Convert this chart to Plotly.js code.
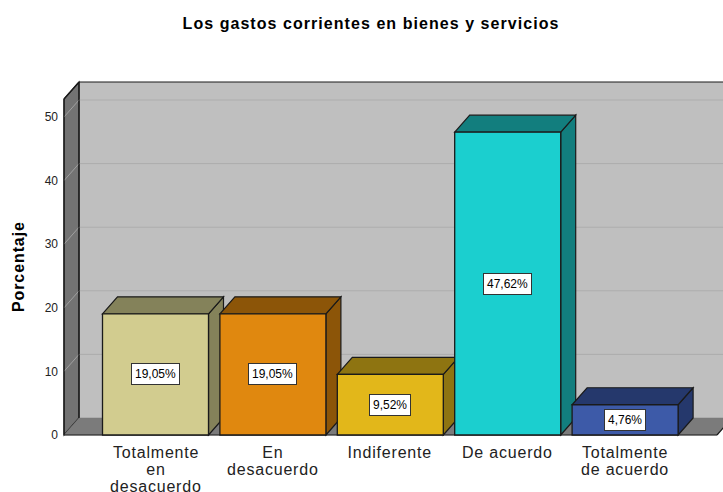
<!DOCTYPE html>
<html><head><meta charset="utf-8">
<script src="https://cdn.plot.ly/plotly-3.0.1.min.js"></script>
<style>html,body{margin:0;padding:0;background:#fff}
.gtitle{letter-spacing:1.05px}</style></head>
<body><div id="chart" style="width:723px;height:492px"></div>
<script>
const categoryLines = [["Totalmente","en","desacuerdo"],["En","desacuerdo"],["Indiferente"],["De acuerdo"],["Totalmente","de acuerdo"]];
const values = [19.05,19.05,9.52,47.62,4.76];
const frontColors = ["#d2cc8f","#e0880f","#e2b71a","#1bcfcf","#3d5aa8"];
const sideColors = ["#84825a","#8c5508","#8e7411","#127e7e","#25386c"];
const yTicks = [0,10,20,30,40,50];

const pxPerY = 6.36, pxPerX = 117.4;
const dx = 15/pxPerX, dy = 17/pxPerY;
const barW = 106/pxPerX, hw = barW/2;
const xL = (64-155.5)/pxPerX, xR = (717-155.5)/pxPerX, yT = (435-99)/pxPerY;
const edge = {color:"#1a1a1a", width:1.2};
const fontFam = "Liberation Sans, Arial, sans-serif";
const poly = (pts, fill, line) => ({type:"path", xref:"x", yref:"y", layer:"below",
  path:"M"+pts.map(p=>p[0]+","+p[1]).join("L")+"Z", fillcolor:fill, line:line||edge});
const seg = (x0,y0,x1,y1,line) => ({type:"line", xref:"x", yref:"y", layer:"below", x0,y0,x1,y1, line});

const shapes = [];
shapes.push(poly([[xL+dx,dy],[xR+dx+1,dy],[xR+dx+1,yT+dy],[xL+dx,yT+dy]],"#bfbfbf",{width:0}));
shapes.push(poly([[xL,0],[xL+dx,dy],[xL+dx,yT+dy],[xL,yT]],"#737373"));
shapes.push(poly([[xL,0],[xL+dx,dy],[xR+dx+1,dy],[xR+dx,dy],[xR,0]],"#7b7b7b",{color:"#7b7b7b",width:0.5}));
yTicks.slice(1).forEach(t=>{
  shapes.push(seg(xL,t,xL+dx,t+dy,{color:"#a0a0a0",width:1}));
  shapes.push(seg(xL+dx,t+dy,xR+dx+1,t+dy,{color:"#adadad",width:1}));
});
shapes.push(seg(xL+dx,dy,xL+dx,yT+dy,edge));
shapes.push(seg(xL+dx,yT+dy,xR+dx+1,yT+dy,edge));
shapes.push(seg(xL,yT,xL+dx,yT+dy,edge));
shapes.push(seg(xL,0,xL,yT,edge));
shapes.push(seg(xL,0,xR,0,edge));
shapes.push(seg(xR,0,xR+dx,dy,edge));
values.forEach((v,i)=>{
  const l=i-hw, r=i+hw;
  shapes.push(poly([[r,0],[r+dx,dy],[r+dx,v+dy],[r,v]],sideColors[i]));
  shapes.push(poly([[l,v],[l+dx,v+dy],[r+dx,v+dy],[r,v]],sideColors[i]));
});

const annotations = [];
values.forEach((v,i)=>{
  annotations.push({x:i,y:v/2,xref:"x",yref:"y",showarrow:false,
    text:v.toFixed(2).replace(".",",")+"%",
    font:{family:fontFam,size:12,color:"#000"},
    bgcolor:"#fff",bordercolor:"#333",borderwidth:1,borderpad:3});
  categoryLines[i].forEach((t,k)=>{
    annotations.push({x:i,xref:"x",yref:"paper",y:0,yanchor:"middle",yshift:-(14+17*k),showarrow:false,borderpad:0,
      text:t,font:{family:fontFam,size:16,color:"#222"}});
  });
});
annotations.push({xref:"paper",yref:"paper",x:-44/661,xshift:-11,y:(438-267)/358,textangle:-90,showarrow:false,
  text:"<b>Porcentaje</b>",font:{family:fontFam,size:16,color:"#000"}});

const layout = {
  width:723,height:492,showlegend:false,paper_bgcolor:"#fff",plot_bgcolor:"#fff",
  margin:{l:62,r:0,t:80,b:54},
  title:{text:"<b>Los gastos corrientes en bienes y servicios</b>",x:371/723,xanchor:"center",y:1-23/492,yanchor:"middle",
    font:{family:fontFam,size:16,color:"#000"}},
  xaxis:{range:[(62-155.5)/pxPerX,(723-155.5)/pxPerX],showgrid:false,zeroline:false,showline:false,showticklabels:false,ticks:"",fixedrange:true},
  yaxis:{range:[-3/pxPerY,(435-80)/pxPerY],tickmode:"array",tickvals:yTicks,ticktext:yTicks.map(String),showgrid:false,zeroline:false,showline:false,
    ticks:"",ticklabelstandoff:3,tickfont:{family:fontFam,size:12,color:"#222"}},
  shapes,annotations,bargap:0
};
Plotly.newPlot("chart",[{type:"bar",x:values.map((_,i)=>i),y:values,width:barW,
  marker:{color:frontColors,line:{color:"#1a1a1a",width:1.3}},hoverinfo:"skip"}],layout,{displayModeBar:false,staticPlot:true}).then(()=>{
  document.querySelectorAll(".annotation-text").forEach(t=>{
    const s=t.textContent;
    if(s==="Porcentaje") t.style.letterSpacing="0.9px";
    else if(s.indexOf("%")<0) t.style.letterSpacing="0.8px";
  });
});
</script></body></html>
